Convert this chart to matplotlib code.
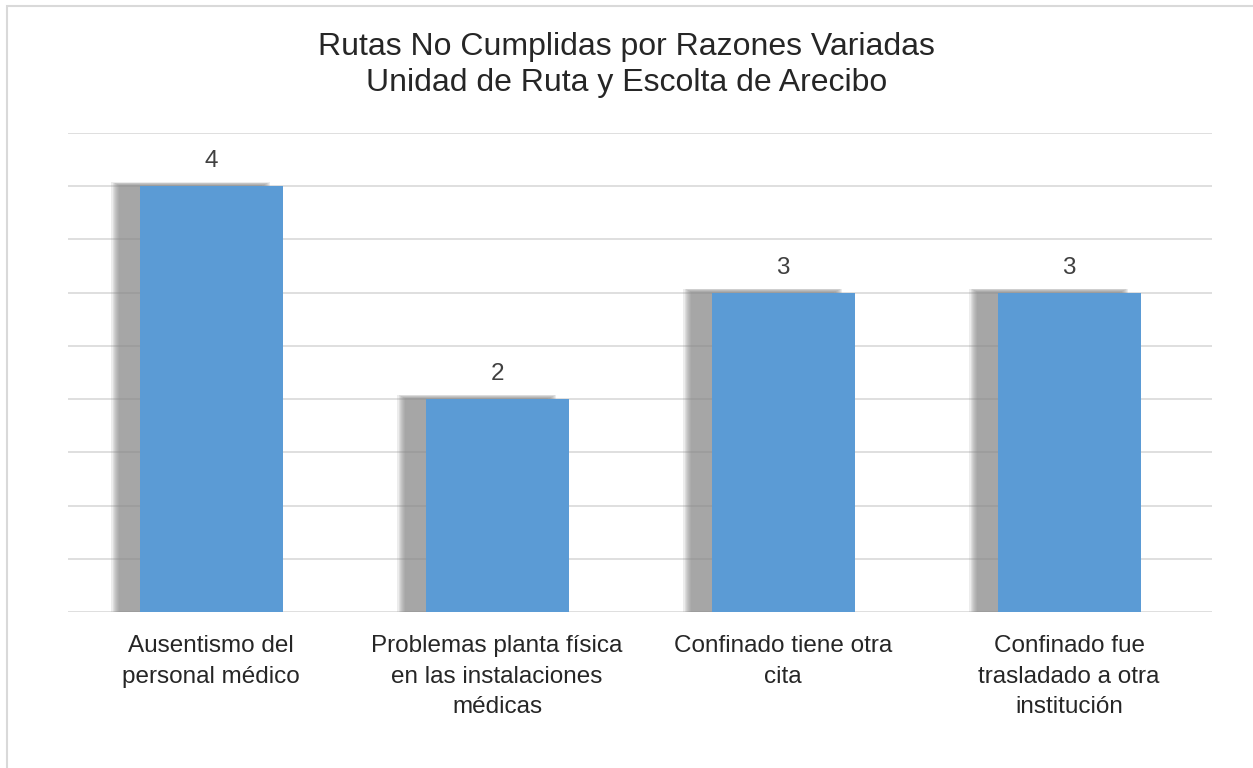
import matplotlib.pyplot as plt
from matplotlib.patches import Rectangle

categories = [
    "Ausentismo del\npersonal médico",
    "Problemas planta física\nen las instalaciones\nmédicas",
    "Confinado tiene otra\ncita",
    "Confinado fue\ntrasladado a otra\ninstitución",
]
values = [4, 2, 3, 3]

plt.rcParams["font.family"] = ["Liberation Sans", "DejaVu Sans"]

fig = plt.figure(figsize=(12.53, 7.68), dpi=100, facecolor="white")
ax = fig.add_axes([68 / 1253, 1 - 612 / 768, (1212 - 68) / 1253, (612 - 133) / 768])

# chart border (only top and left visible in the reference)
fig.add_artist(Rectangle((7 / 1253, -0.1), 1.2, 1 - 6 / 768 + 0.1,
                         transform=fig.transFigure, fill=False,
                         edgecolor="#d9d9d9", linewidth=1.5))

bar_w = 0.5
xs = list(range(len(values)))

# soft shadow to the left of each bar
for x, v in zip(xs, values):
    for k in range(8):
        grow = 0.004 * k
        ax.add_patch(Rectangle((x - bar_w / 2 - 0.07 - grow, 0),
                               bar_w + 2 * grow, v + 0.01 + grow,
                               facecolor="#8c8c8c", edgecolor="none",
                               alpha=0.16, zorder=2))

bars = ax.bar(xs, values, width=bar_w, color="#5B9BD5", zorder=3)

for x, v in zip(xs, values):
    ax.annotate(str(v), (x, v), xytext=(0, 10), textcoords="offset points",
                ha="center", va="bottom", fontsize=17.5, color="#404040")

ax.set_xlim(-0.5, len(values) - 0.5)
ax.set_ylim(0, 4.5)
ax.set_yticks([i * 0.5 for i in range(10)])
ax.yaxis.grid(True, color="#d9d9d9", linewidth=1.2, zorder=0)
ax.set_axisbelow(True)
ax.tick_params(left=False, bottom=False, labelleft=False, labelbottom=False)
for s in ax.spines.values():
    s.set_visible(False)

for x, lab in zip(xs, categories):
    ax.text(x, -0.22, lab, ha="center", va="top", fontsize=17.5,
            color="#262626", linespacing=1.48)

fig.text(0.5, 1 - 65 / 768,
         "Rutas No Cumplidas por Razones Variadas\nUnidad de Ruta y Escolta de Arecibo",
         ha="center", va="center", fontsize=23, color="#262626", linespacing=1.25)

fig.savefig("out.png", dpi=100)
